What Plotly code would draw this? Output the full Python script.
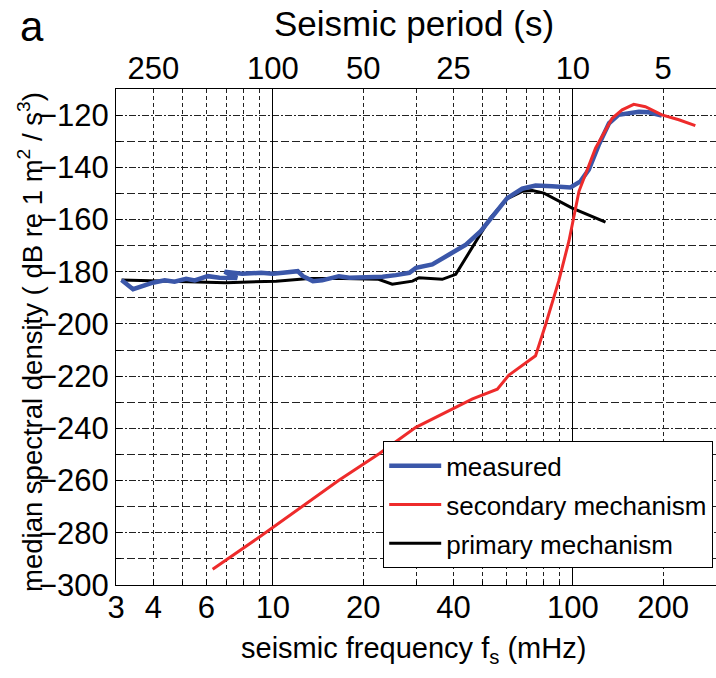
import math
import plotly.graph_objects as go

# ---- data ----
meas_f = [3.13, 3.42, 3.98, 4.36, 4.70, 5.14, 5.49, 6.07, 6.64, 7.6, 6.9, 7.9, 9.14, 10.0, 10.8,
          12.1, 12.6, 13.6, 14.6, 16.6, 18.0, 19.9, 23.2, 25.7, 28.5, 30.0, 34.0, 38.7,
          44.0, 49.3, 52.5, 60.4, 67.8, 75.1, 85.3, 98.2, 106, 113, 122, 132, 142,
          166, 179, 198]
meas_db = [-183.2, -186.7, -184.2, -183.3, -183.8, -182.7, -183.3, -181.7, -182.3, -182.4,
           -180.0, -180.8, -180.4, -180.8, -180.4, -179.8, -181.7, -183.6, -183.3, -181.7,
           -182.3, -182.3, -181.9, -181.3, -180.4, -178.5, -177.2, -173.4, -169.6, -164.5,
           -160.7, -151.8, -148.2, -147.0, -147.3, -147.7, -145.4, -140.9, -131.4, -123.1,
           -119.9, -118.7, -118.9, -120.2]

sec_f = [6.3, 9.02, 16.6, 22.6, 29.96, 39.6, 46.3, 56.0, 61.2, 75.1, 81.2, 89.7, 97.0,
         104.8, 119, 135.2, 146, 159.6, 174.5, 198, 225.5, 256]
sec_db = [-294.0, -281.6, -259.9, -249.7, -239.6, -232.6, -228.7, -225.0, -219.6, -212.2,
          -200.1, -183.6, -168.3, -149.2, -132.7, -121.2, -118.0, -115.9, -116.8, -119.9,
          -121.8, -124.0]

prim_f = [3.13, 4.77, 6.98, 10.25, 13.2, 17.1, 22.5, 25.0, 29.2, 30.7, 36.7, 40.7, 44.0,
          48.6, 53.0, 60.4, 67.8, 73.3, 80.1, 99.5, 128.5]
prim_db = [-183.2, -183.8, -184.2, -183.6, -182.6, -182.6, -182.9, -184.8, -183.6, -182.3,
           -182.9, -181.0, -174.7, -167.0, -159.5, -152.0, -149.2, -148.9, -149.9, -155.6,
           -161.0]

freq_ticks = [3, 4, 6, 10, 20, 40, 100, 200]
period_ticks = [250, 100, 50, 25, 10, 5]            # seconds
period_pos = [1000.0 / p for p in period_ticks]      # mHz
y_ticks = list(range(-300, -119, 20))
y_minor = list(range(-290, -129, 20))
x_minor = [4, 5, 6, 7, 8, 9, 20, 30, 40, 50, 60, 70, 80, 90, 200]
x_major_grid = [10, 100]

TXT = "Liberation Sans, Arial, sans-serif"
TICKFONT = dict(family=TXT, size=31, color="black")

fig = go.Figure()
fig.add_trace(go.Scatter(x=prim_f, y=prim_db, mode="lines", name="primary mechanism",
                         line=dict(color="black", width=3), legendrank=3,
                         legendgroup="c"))
fig.add_trace(go.Scatter(x=meas_f, y=meas_db, mode="lines", name="measured",
                         line=dict(color="#3b57a9", width=4.5), legendrank=1,
                         legendgroup="a", xaxis="x2"))
fig.add_trace(go.Scatter(x=sec_f, y=sec_db, mode="lines", name="secondary mechanism",
                         line=dict(color="#ee2b2b", width=3), legendrank=2,
                         legendgroup="b", xaxis="x3"))

xr = [math.log10(3), math.log10(300)]
fig.update_layout(
    width=716, height=678, autosize=False,
    margin=dict(l=116, r=0, t=89, b=93),
    plot_bgcolor="white", paper_bgcolor="white",
    xaxis=dict(type="log", range=xr, tickmode="array", tickvals=freq_ticks,
               ticktext=[str(v) for v in freq_ticks], tickfont=TICKFONT,
               ticks="inside", ticklen=6, tickcolor="black", showgrid=False,
               showline=True, linecolor="black", linewidth=1.2, mirror=True,
               zeroline=False, ticklabelstandoff=-5,
               minor=dict(tickmode="array", tickvals=x_minor, ticks="inside", ticklen=4,
                          tickcolor="black", showgrid=True, gridcolor="#222",
                          gridwidth=1, griddash="4px,3px")),
    xaxis2=dict(type="log", range=xr, overlaying="x", side="top", anchor="y",
                matches="x", tickmode="array", tickvals=period_pos,
                ticktext=[str(p) for p in period_ticks], tickfont=TICKFONT,
                ticks="", showgrid=False, showline=False, zeroline=False,
                ticklabelstandoff=3),
    xaxis3=dict(type="log", range=xr, overlaying="x", anchor="y", matches="x",
                tickmode="array", tickvals=x_major_grid, showticklabels=False, ticks="",
                showgrid=True, gridcolor="black", gridwidth=1.2, showline=False,
                zeroline=False),
    yaxis=dict(range=[-300, -110], tickmode="array", tickvals=y_ticks,
               ticktext=[("\u2212" + str(-v)) for v in y_ticks], tickfont=TICKFONT,
               ticks="inside", ticklen=6, tickcolor="black",
               showgrid=True, gridcolor="#222", gridwidth=1, griddash="7px,2px,2px,2px",
               showline=True, linecolor="black", linewidth=1.2, mirror=True,
               zeroline=False, ticklabelstandoff=0,
               minor=dict(tickmode="array", tickvals=y_minor, ticks="inside", ticklen=5,
                          tickcolor="black", showgrid=True, gridcolor="#222",
                          gridwidth=1, griddash="8px,3px")),
    showlegend=True,
    legend=dict(x=0.445, y=0.29, xanchor="left", yanchor="top",
                bgcolor="white", bordercolor="black", borderwidth=1.2,
                font=dict(family=TXT, size=26, color="black"),
                itemwidth=52,
                traceorder="grouped", tracegroupgap=2),
    annotations=[
        dict(text="a", xref="paper", yref="paper", x=-0.14, y=(585 - 26) / 496,
             xanchor="center", yanchor="middle", showarrow=False,
             font=dict(family=TXT, size=42, color="black")),
        dict(text="Seismic period (s)", xref="paper", yref="paper", x=0.497,
             y=(585 - 24) / 496, xanchor="center", yanchor="middle", showarrow=False,
             font=dict(family=TXT, size=35, color="black")),
        dict(text="seismic frequency f<sub>s</sub> (mHz)", xref="paper", yref="paper",
             x=0.495, y=(585 - 650) / 496, xanchor="center", yanchor="middle",
             showarrow=False, font=dict(family=TXT, size=29, color="black")),
        dict(text="median spectral density ( dB re 1 m<sup>2</sup> / s<sup>3</sup>)",
             xref="paper", yref="paper", x=(31 - 116) / 600, y=0.49, textangle=-90,
             xanchor="center", yanchor="middle", showarrow=False,
             font=dict(family=TXT, size=27.5, color="black")),
    ],
)

fig.write_html("out.html")
